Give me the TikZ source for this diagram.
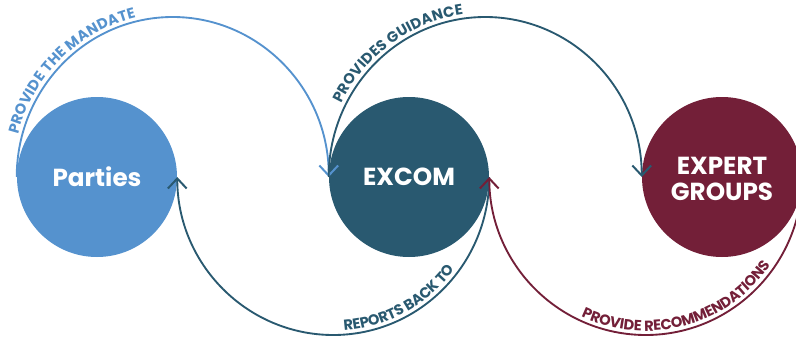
\documentclass[tikz,border=0pt]{standalone}
\usepackage{fontspec}
\setmainfont{Poppins}
\usetikzlibrary{arrows.meta,decorations.text,calc}
\definecolor{pblue}{RGB}{85,146,206}
\definecolor{eteal}{RGB}{41,89,112}
\definecolor{xred}{RGB}{115,31,56}
\newcommand\lblfont{\fontsize{11}{12}\selectfont\bfseries}
\begin{document}
\begin{tikzpicture}[x=0.75pt,y=0.75pt,
  circ/.style={circle, minimum size=120pt, inner sep=0pt, text=white,
    font=\fontsize{18.5}{21}\selectfont\bfseries, align=center},
  conn/.style={line width=1.4pt, -{Straight Barb[length=7.5pt,width=14pt,line width=1.5pt]}},
  lbl/.style={decorate, decoration={text along path, text align=center, raise=3pt, text color=#1}},
]
\clip (0,0) rectangle (796,340);
\node[circ, fill=pblue] (parties) at (97,163) {Parties};
\node[circ, fill=eteal] (excom) at (409,163) {EXCOM};
\node[circ, fill=xred] (expert) at (722,163)
  {\raisebox{-3.75pt}[\height][\depth]{\begin{tabular}{@{}c@{}}EXPERT\\[-1pt]GROUPS\end{tabular}}};
\coordinate (c1) at ($(parties.west)!0.5!(excom.west)$);
\coordinate (c2) at ($(excom.west)!0.5!(expert.west)$);
\coordinate (c3) at ($(parties.east)!0.5!(excom.east)$);
\coordinate (c4) at ($(excom.east)!0.5!(expert.east)$);
% connectors
\draw[conn, pblue] (parties.west) arc[start angle=180, end angle=0, x radius=156, y radius=160];
\draw[conn, eteal] (excom.west) arc[start angle=180, end angle=0, x radius=156.5, y radius=160];
\draw[conn, eteal] (excom.east) arc[start angle=0, end angle=-180, x radius=156, y radius=158];
\draw[conn, xred] (expert.east) arc[start angle=0, end angle=-180, x radius=156.5, y radius=158];
% labels
\path[lbl=pblue, decoration={text={|\lblfont|PROVIDE THE MANDATE}}]
  ($(c1)+(179:156 and 160)$) arc[start angle=179, end angle=89, x radius=156, y radius=160];
\path[lbl=eteal, decoration={text={|\lblfont|PROVIDES GUIDANCE}}]
  ($(c2)+(170:156.5 and 160)$) arc[start angle=170, end angle=81, x radius=156.5, y radius=160];
\path[lbl=eteal, decoration={text={|\lblfont|REPORTS BACK TO}}]
  ($(c3)+(-106:156 and 158)$) arc[start angle=-106, end angle=-17, x radius=156, y radius=158];
\path[lbl=xred, decoration={text={|\lblfont|PROVIDE RECOMMENDATIONS}}]
  ($(c4)+(-127:156.5 and 158)$) arc[start angle=-127, end angle=-23, x radius=156.5, y radius=158];
\end{tikzpicture}
\end{document}
